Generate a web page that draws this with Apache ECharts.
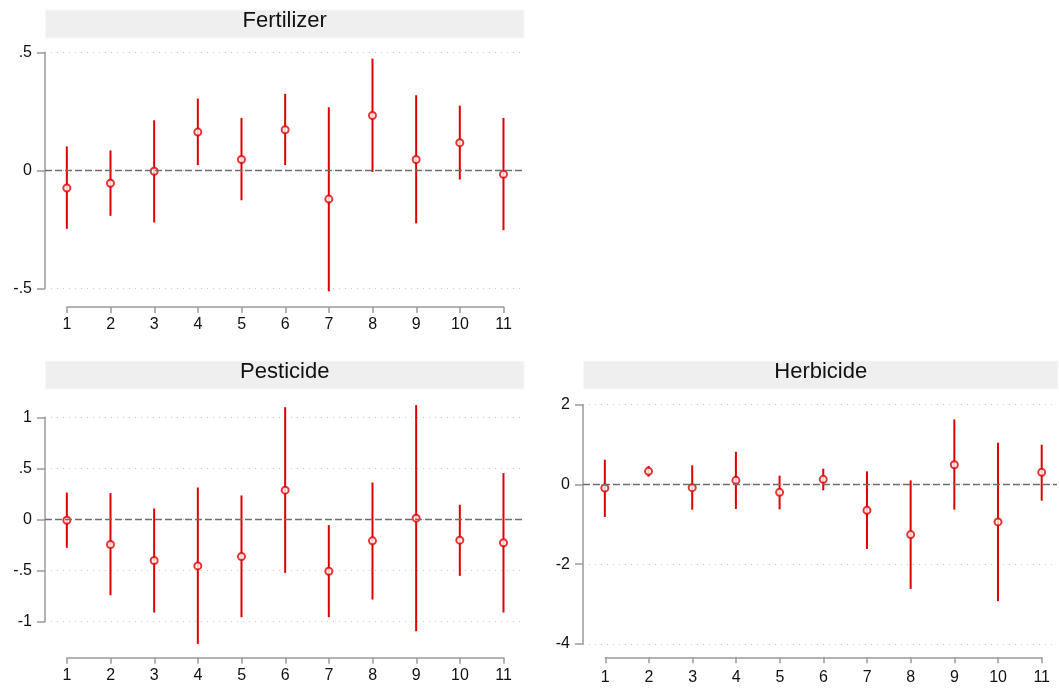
<!DOCTYPE html>
<html><head><meta charset="utf-8">
<script src="https://cdn.jsdelivr.net/npm/echarts@6/dist/echarts.min.js"></script>
<style>html,body{margin:0;padding:0;background:#fff}#c{width:1059px;height:689px}</style>
</head><body><div id="c"></div>
<script>
const periods = [1,2,3,4,5,6,7,8,9,10,11];

const fertCoef = [-0.075,-0.055,-0.004,0.162,0.046,0.172,-0.122,0.232,0.046,0.117,-0.017];
const fertLo   = [-0.248,-0.193,-0.221,0.022,-0.127,0.022,-0.513,-0.007,-0.225,-0.039,-0.254];
const fertHi   = [0.101,0.084,0.212,0.304,0.222,0.324,0.267,0.473,0.318,0.274,0.222];

const pestCoef = [-0.007,-0.245,-0.401,-0.454,-0.362,0.287,-0.506,-0.209,0.013,-0.202,-0.228];
const pestLo   = [-0.277,-0.741,-0.910,-1.217,-0.956,-0.522,-0.956,-0.783,-1.093,-0.551,-0.910];
const pestHi   = [0.264,0.258,0.108,0.313,0.235,1.099,-0.055,0.362,1.119,0.144,0.454];

const herbCoef = [-0.092,0.325,-0.083,0.100,-0.200,0.125,-0.651,-1.259,0.492,-0.942,0.300];
const herbLo   = [-0.817,0.192,-0.634,-0.617,-0.626,-0.150,-1.618,-2.619,-0.634,-2.927,-0.409];
const herbHi   = [0.617,0.459,0.475,0.817,0.217,0.392,0.325,0.100,1.626,1.043,0.992];

const fertYTicks = {min:-0.5, max:0.5, interval:0.5};
const pestYTicks = {min:-1, max:1, interval:0.5};
const herbYTicks = {min:-4, max:2, interval:2};

const panels = [
  {title:'Fertilizer', coef:fertCoef, lo:fertLo, hi:fertHi, yt:fertYTicks,
   plot:{left:45, top:52.3, width:479, height:236}, xmax:11.47, axisTop:300, axisLeft:67, axisWidth:436.6, xMargin:10, band:{x:45.5,y:10,w:478.5,h:28}},
  {title:'Pesticide', coef:pestCoef, lo:pestLo, hi:pestHi, yt:pestYTicks,
   plot:{left:45, top:417.3, width:479, height:204.4}, xmax:11.47, axisTop:650.7, axisLeft:67, axisWidth:436.6, xMargin:10, band:{x:45.5,y:361,w:478.5,h:28}},
  {title:'Herbicide', coef:herbCoef, lo:herbLo, hi:herbHi, yt:herbYTicks,
   plot:{left:583, top:404.5, width:474, height:239.5}, xmax:11.35, axisTop:650.3, axisLeft:605.3, axisWidth:436.4, xMargin:12, band:{x:583.5,y:361,w:474.5,h:28}}
];

const RED = '#e00000';
const AXIS = '#9a9a9a';
const FONT = '"Liberation Sans", Arial, sans-serif';
const fmt = v => String(+v.toFixed(6)).replace(/^(-?)0\./, '$1.');

const grid = [], xAxis = [], yAxis = [], series = [], graphic = [];
panels.forEach((p, i) => {
  const g = 2*i;
  grid.push({left:p.plot.left, top:p.plot.top, width:p.plot.width, height:p.plot.height, containLabel:false});
  grid.push({left:p.axisLeft, top:p.axisTop, width:p.axisWidth, height:7, containLabel:false});
  xAxis.push({gridIndex:g, type:'value', min:0.5, max:p.xmax, show:false, splitLine:{show:false}});
  xAxis.push({gridIndex:g+1, type:'value', min:1, max:11, interval:1, position:'bottom',
    axisLine:{show:true, lineStyle:{color:AXIS, width:1.5}},
    axisTick:{show:true, length:6, lineStyle:{color:AXIS, width:1.5}},
    axisLabel:{show:true, margin:p.xMargin, fontSize:16, color:'#111', fontFamily:FONT},
    splitLine:{show:false}});
  yAxis.push({gridIndex:g, type:'value', min:p.yt.min, max:p.yt.max, interval:p.yt.interval,
    axisLine:{show:true, onZero:false, lineStyle:{color:AXIS, width:1.5}},
    axisTick:{show:true, length:8, lineStyle:{color:AXIS, width:1.5}},
    axisLabel:{show:true, margin:13, fontSize:16, color:'#111', fontFamily:FONT, formatter:fmt},
    splitLine:{show:true, lineStyle:{color:'#c8c8c8', width:1, type:[1,5]}}});
  yAxis.push({gridIndex:g+1, type:'value', show:false, min:0, max:1, splitLine:{show:false}});

  const barData = periods.map((x, k) => [x, p.lo[k], p.hi[k]]);
  series.push({
    type:'custom', xAxisIndex:g, yAxisIndex:g, clip:false, silent:true, z:2,
    data:barData,
    renderItem:(params, api) => {
      const a = api.coord([api.value(0), api.value(1)]);
      const b = api.coord([api.value(0), api.value(2)]);
      return {type:'line', shape:{x1:a[0], y1:a[1], x2:b[0], y2:b[1]},
        style:{stroke:RED, lineWidth:2}};
    }
  });
  series.push({
    type:'scatter', xAxisIndex:g, yAxisIndex:g, z:3, silent:true, clip:false,
    data:periods.map((x, k) => [x, p.coef[k]]),
    symbol:'emptyCircle', symbolSize:7,
    itemStyle:{color:RED, borderColor:RED, borderWidth:2},
    markLine:{silent:true, symbol:'none', label:{show:false}, animation:false,
      lineStyle:{color:'#6e6e6e', width:1.3, type:[7,3]},
      data:[{yAxis:0}]}
  });
  graphic.push({type:'rect', shape:{x:p.band.x, y:p.band.y, width:p.band.w, height:p.band.h},
    style:{fill:'#efefef', stroke:'#f8f8f8', lineWidth:1}, z:-1});
  graphic.push({type:'text', x:p.band.x + p.band.w/2, y:p.band.y + p.band.h/2 - 3,
    style:{text:p.title, fill:'#111', font:'22px ' + FONT, textAlign:'center', textVerticalAlign:'middle'}, z:1});
});

const chart = echarts.init(document.getElementById('c'), null, {renderer:'canvas'});
chart.setOption({animation:false, backgroundColor:'#fff', grid, xAxis, yAxis, series, graphic});
</script>
</body></html>
